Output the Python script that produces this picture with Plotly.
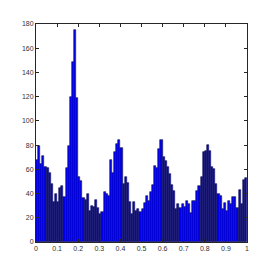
import numpy as np
import plotly.graph_objects as go

# histogram counts, 100 equal bins on [0, 1]
counts = [68, 79, 64, 71, 62, 61, 57, 48, 33, 40,
          33, 45, 46, 37, 61, 79, 120, 149, 175, 119,
          54, 50, 36, 35, 40, 26, 30, 29, 35, 28,
          23, 25, 41, 40, 38, 68, 57, 74, 81, 84,
          78, 48, 54, 49, 33, 23, 33, 26, 27, 25,
          27, 32, 38, 34, 41, 47, 63, 61, 77, 84,
          70, 67, 62, 56, 47, 42, 27, 31, 28, 31,
          29, 34, 31, 24, 34, 34, 42, 46, 54, 74,
          75, 80, 75, 62, 60, 48, 40, 38, 27, 32,
          26, 34, 31, 37, 37, 28, 43, 31, 51, 53]
x_min, x_max = 0.0, 1.0
x_ticks = [0, 0.1, 0.2, 0.3, 0.4, 0.5, 0.6, 0.7, 0.8, 0.9, 1]
x_tick_labels = ["0", "0.1", "0.2", "0.3", "0.4", "0.5", "0.6", "0.7", "0.8", "0.9", "1"]
y_ticks = [0, 20, 40, 60, 80, 100, 120, 140, 160, 180]

n_bins = len(counts)
bin_width = (x_max - x_min) / n_bins
centers = x_min + bin_width * (np.arange(n_bins) + 0.5)

fig = go.Figure(go.Bar(
    x=centers, y=counts, width=bin_width,
    marker=dict(color="#0000ee", line=dict(color="#1a1a3a", width=0.6)),
))

axis_common = dict(
    showgrid=False, zeroline=False, showline=True, linecolor="#262626", linewidth=1,
    mirror="ticks", ticks="inside", ticklen=3, tickcolor="#262626", tickwidth=1,
    tickfont=dict(family="Liberation Sans Narrow, Arial Narrow, Liberation Sans", size=7, color="#333333"),
)
fig.update_xaxes(range=[x_min, x_max], tickvals=x_ticks, ticktext=x_tick_labels, **axis_common)
fig.update_yaxes(range=[0, 180], tickvals=y_ticks, **axis_common)

fig.update_layout(
    width=265, height=265, bargap=0,
    margin=dict(l=28, r=26, t=12, b=31),
    plot_bgcolor="white", paper_bgcolor="white",
    showlegend=False,
)
fig.write_html("out.html")
